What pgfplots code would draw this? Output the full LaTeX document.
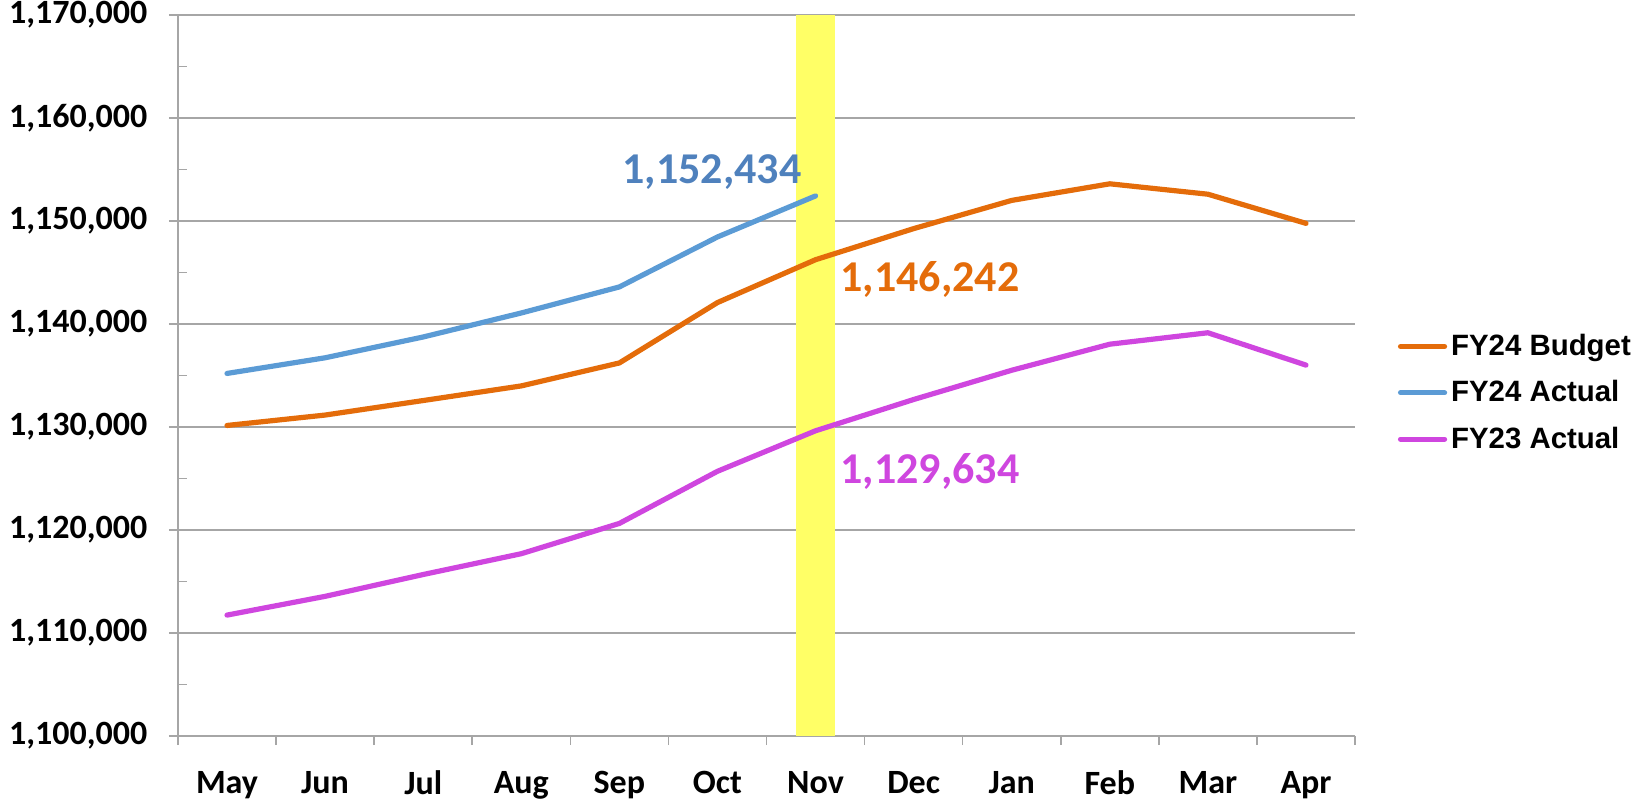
\documentclass[border=0pt]{standalone}
\usepackage{fontspec}
\setmainfont{Carlito}
\newfontfamily\arialf{Liberation Sans}
\usepackage{pgfplots}
\pgfplotsset{compat=1.18}

\definecolor{budget}{HTML}{E46C0A}
\definecolor{act24}{HTML}{5B9BD5}
\definecolor{act24lbl}{HTML}{4F81BD}
\definecolor{act23}{HTML}{CF46DF}
\definecolor{band}{HTML}{FFFF66}
\definecolor{gridc}{HTML}{A6A6A6}

\begin{document}
\begin{tikzpicture}
\begin{axis}[
    scale only axis,
    width=588.5pt, height=360.5pt,
    xmin=-0.5, xmax=11.5,
    ymin=1100000, ymax=1170000,
    xtick={-0.5,0.5,...,11.5},
    xticklabels={May,Jun,Jul,Aug,Sep,Oct,Nov,Dec,Jan,Feb,Mar,Apr},
    x tick label as interval,
    xticklabel style={yshift=-9.5pt},
    ytick={1100000,1110000,...,1170000},
    scaled y ticks=false,
    yticklabel={\pgfmathprintnumber[fixed,1000 sep={,},assume math mode=true]{\tick}},
    yticklabel style={xshift=-7.25pt},
    tick label style={font=\fontsize{17}{20}\selectfont\bfseries, text=black},
    ymajorgrids,
    grid style={gridc, line width=0.7pt},
    axis x line*=bottom, axis y line*=left,
    axis line style={gridc, line width=0.8pt},
    tick style={gridc, line width=0.8pt},
    tick align=outside,
    major tick length=4.5pt,
    extra y ticks={1105000,1115000,...,1165000},
    extra y tick labels={},
    extra y tick style={ymajorgrids=false, tick align=inside},
    clip=false,
    legend style={at={(rel axis cs:1.031,0.476)}, anchor=west, draw=none, fill=none,
        font=\arialf\bfseries\fontsize{14.7}{17.6}\selectfont, row sep=7pt},
    legend cell align=left,
    legend image code/.code={\draw[#1] (0pt,0pt) -- (22pt,0pt);},
]
% highlight band for Nov
\addplot[fill=band, draw=none, forget plot] coordinates {
    (5.8,1100000) (6.2,1100000) (6.2,1170000) (5.8,1170000)} -- cycle;

\addplot[budget, line width=2.6pt, line join=round, line cap=round] coordinates {
    (0,1130150) (1,1131160) (2,1132570) (3,1133990) (4,1136220) (5,1142080)
    (6,1146242) (7,1149260) (8,1152000) (9,1153610) (10,1152600) (11,1149770)};
\addlegendentry{FY24 Budget}

\addplot[act24, line width=2.6pt, line join=round, line cap=round] coordinates {
    (0,1135200) (1,1136720) (2,1138740) (3,1141070) (4,1143600) (5,1148450)
    (6,1152434)};
\addlegendentry{FY24 Actual}

\addplot[act23, line width=2.6pt, line join=round, line cap=round] coordinates {
    (0,1111740) (1,1113560) (2,1115680) (3,1117700) (4,1120640) (5,1125700)
    (6,1129634) (7,1132670) (8,1135510) (9,1138040) (10,1139150) (11,1136010)};
\addlegendentry{FY23 Actual}

\node[anchor=east, text=act24lbl, font=\fontsize{22}{26}\selectfont\bfseries, inner sep=0pt]
    at (axis cs:5.86,1154730) {1,152,434};
\node[anchor=west, text=budget, font=\fontsize{22}{26}\selectfont\bfseries, inner sep=0pt]
    at (axis cs:6.25,1144340) {1,146,242};
\node[anchor=west, text=act23, font=\fontsize{22}{26}\selectfont\bfseries, inner sep=0pt]
    at (axis cs:6.25,1125700) {1,129,634};

\coordinate (bbl) at (rel axis cs:-0.1512,-0.0957);
\coordinate (btr) at (rel axis cs:1.237,1.0208);
\end{axis}
\pgfresetboundingbox
\path[use as bounding box] (bbl) rectangle (btr);
\end{tikzpicture}
\end{document}
